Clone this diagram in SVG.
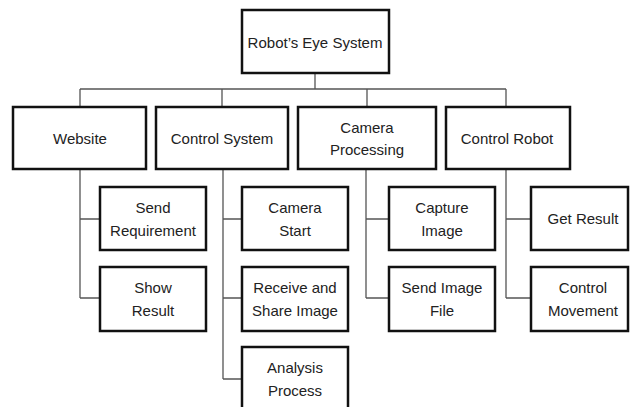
<svg xmlns="http://www.w3.org/2000/svg" width="630" height="407" viewBox="0 0 630 407">
<style>
.box{fill:#fff;stroke:#111;stroke-width:2.5}
.lbl{font-family:"Liberation Sans",Arial,sans-serif;font-size:15px;fill:#222;text-anchor:middle;dominant-baseline:central}
.conn{fill:none;stroke:#555;stroke-width:1.3}
</style>
<rect width="630" height="407" fill="#fff"/>
<g id="connectors">
<path class="conn" d="M315 73V89M80 89H506M80 89V107M222 89V107M367 89V107M506 89V107"/>
<path class="conn" d="M80 169V298M80 219H100M80 298H100"/>
<path class="conn" d="M223 169V379M223 219H242M223 298H242M223 379H242"/>
<path class="conn" d="M366 169V298M366 219H389M366 298H389"/>
<path class="conn" d="M506 169V298M506 219H531M506 298H531"/>
</g>
<g id="root"><rect class="box" x="242" y="10" width="147" height="63"/><text class="lbl" x="315" y="42">Robot’s Eye System</text></g>
<g id="website"><rect class="box" x="13" y="107" width="133" height="62"/><text class="lbl" x="80" y="138">Website</text></g>
<g id="control-system"><rect class="box" x="156" y="107" width="132" height="62"/><text class="lbl" x="222" y="138">Control System</text></g>
<g id="camera-processing"><rect class="box" x="298" y="107" width="138" height="62"/><text class="lbl" x="367" y="127">Camera</text><text class="lbl" x="367" y="149">Processing</text></g>
<g id="control-robot"><rect class="box" x="446" y="107" width="124" height="62"/><text class="lbl" x="507" y="138">Control Robot</text></g>
<g id="send-requirement"><rect class="box" x="100" y="187" width="106" height="63"/><text class="lbl" x="153" y="207">Send</text><text class="lbl" x="153" y="230">Requirement</text></g>
<g id="show-result"><rect class="box" x="100" y="267" width="106" height="64"/><text class="lbl" x="153" y="287">Show</text><text class="lbl" x="153" y="310">Result</text></g>
<g id="camera-start"><rect class="box" x="242" y="187" width="106" height="63"/><text class="lbl" x="295" y="207">Camera</text><text class="lbl" x="295" y="230">Start</text></g>
<g id="receive-share"><rect class="box" x="242" y="267" width="106" height="64"/><text class="lbl" x="295" y="287">Receive and</text><text class="lbl" x="295" y="310">Share Image</text></g>
<g id="analysis-process"><rect class="box" x="242" y="347" width="106" height="64"/><text class="lbl" x="295" y="367">Analysis</text><text class="lbl" x="295" y="390">Process</text></g>
<g id="capture-image"><rect class="box" x="389" y="187" width="106" height="63"/><text class="lbl" x="442" y="207">Capture</text><text class="lbl" x="442" y="230">Image</text></g>
<g id="send-image-file"><rect class="box" x="389" y="267" width="106" height="64"/><text class="lbl" x="442" y="287">Send Image</text><text class="lbl" x="442" y="310">File</text></g>
<g id="get-result"><rect class="box" x="531" y="187" width="97" height="63"/><text class="lbl" x="583" y="218">Get Result</text></g>
<g id="control-movement"><rect class="box" x="531" y="267" width="97" height="64"/><text class="lbl" x="583" y="287">Control</text><text class="lbl" x="583" y="310">Movement</text></g>
</svg>
